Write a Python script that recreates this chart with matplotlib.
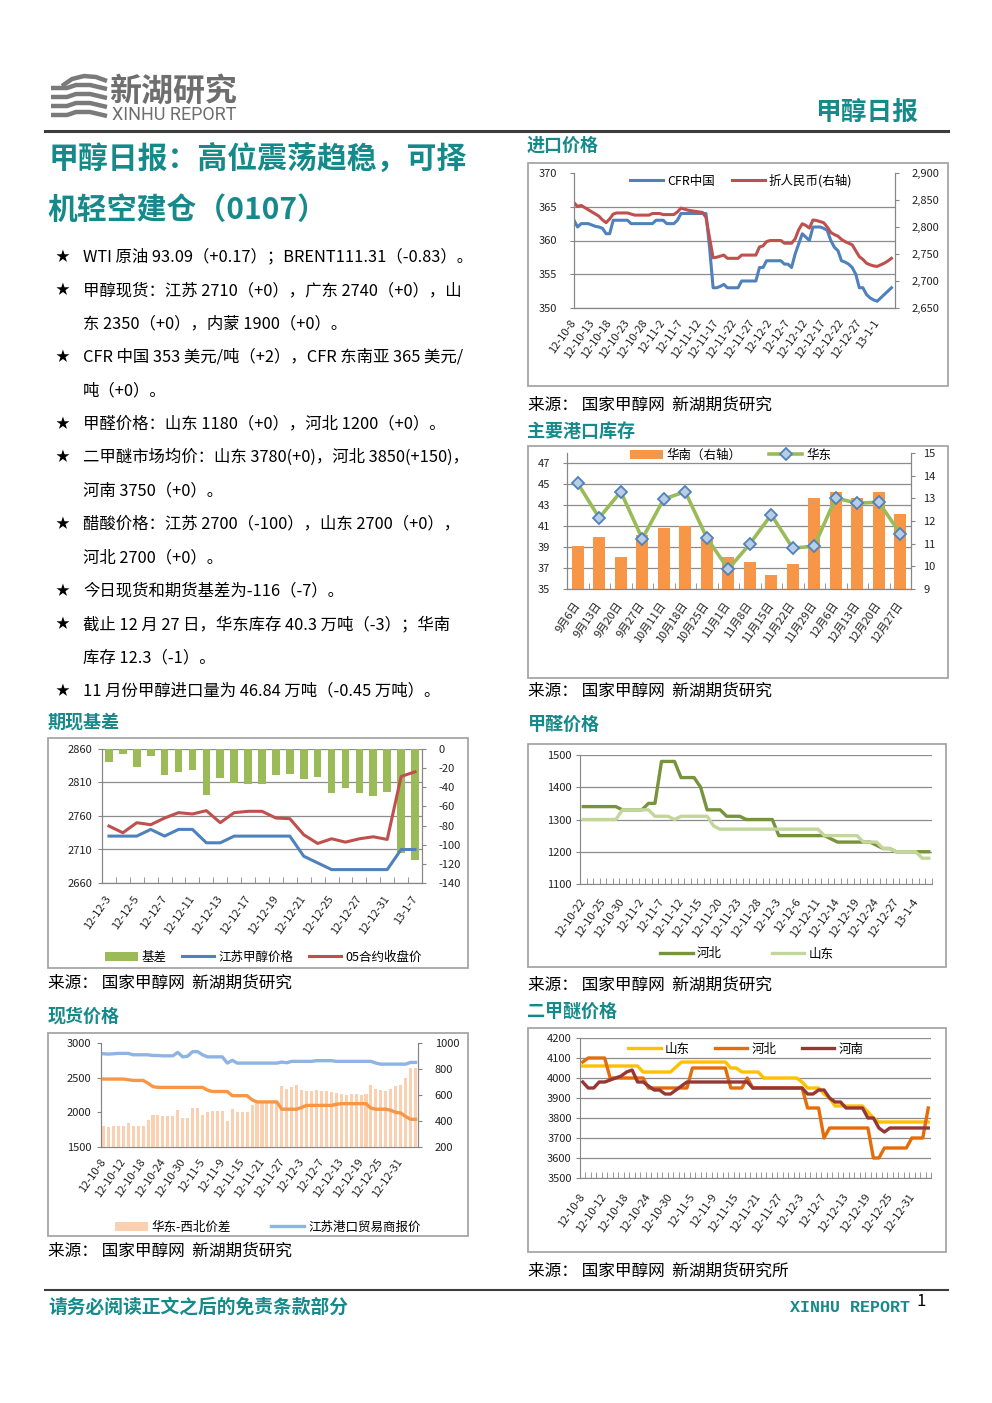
import numpy as np
import matplotlib
matplotlib.use('Agg')
import matplotlib.pyplot as plt
from matplotlib.patches import Rectangle
from matplotlib.lines import Line2D
from matplotlib.ticker import FuncFormatter

plt.rcParams['font.family'] = ['Noto Sans CJK SC', 'DejaVu Sans']
plt.rcParams['axes.unicode_minus'] = False

W, H = 992, 1403
TEAL = '#168a8a'
AXC = '#868686'
GRID = '#8c8c8c'

# ---------------- 进口价格 (daily, 12-10-8 .. 13-1-5)
imp_labels = ['12-10-8', '12-10-13', '12-10-18', '12-10-23', '12-10-28', '12-11-2',
              '12-11-7', '12-11-12', '12-11-17', '12-11-22', '12-11-27', '12-12-2',
              '12-12-7', '12-12-12', '12-12-17', '12-12-22', '12-12-27', '13-1-1']
cfr_china = [363, 362, 362.5, 362.5, 362.5, 362.3, 362.1, 362, 361.8, 361,
             361, 363, 363, 363, 363, 363, 362.5, 362.5, 362.5, 362.5,
             362.5, 362.5, 362.5, 363, 363, 363, 362.5, 362.5, 362.5, 363,
             364, 364, 364, 364, 364, 364, 364, 364, 359, 353,
             353, 353.2, 353.5, 353, 353, 353, 353, 354, 354, 354,
             354, 354, 356, 356, 357, 357, 357, 357, 357, 356.5,
             356.5, 356, 358, 359.5, 361, 360.5, 360, 362, 362, 362,
             361.8, 361.5, 360, 359, 358.5, 357, 356.8, 356.5, 356, 355,
             353, 353, 352, 351.5, 351.2, 351, 351.5, 352, 352.5, 353]
cfr_rmb = [2845, 2838, 2840, 2836, 2832, 2828, 2824, 2820, 2813, 2808,
           2815, 2824, 2826, 2826, 2826, 2826, 2824, 2822, 2822, 2822,
           2822, 2822, 2825, 2825, 2825, 2823, 2823, 2823, 2823, 2828,
           2835, 2833, 2831, 2830, 2829, 2828, 2827, 2818, 2780, 2743,
           2744, 2746, 2748, 2742, 2742, 2742, 2742, 2748, 2748, 2748,
           2748, 2748, 2763, 2765, 2773, 2775, 2775, 2775, 2775, 2770,
           2770, 2770, 2778, 2795, 2806, 2803, 2798, 2813, 2812, 2810,
           2808, 2800, 2790, 2786, 2783, 2777, 2773, 2770, 2767, 2756,
           2745, 2740, 2733, 2730, 2728, 2727, 2730, 2733, 2737, 2742]

# ---------------- 主要港口库存
inv_weeks = ['9月6日', '9月13日', '9月20日', '9月27日', '10月11日', '10月18日', '10月25日', '11月1日',
             '11月8日', '11月15日', '11月22日', '11月29日', '12月6日', '12月13日', '12月20日', '12月27日']
inv_south = [10.9, 11.3, 10.4, 11.4, 11.7, 11.8, 11.3, 10.4, 10.2, 9.6, 10.1, 13.0, 13.3, 13.0, 13.3, 12.3]
inv_east = [45.1, 41.8, 44.3, 39.8, 43.6, 44.3, 39.9, 36.9, 39.3, 42.1, 38.9, 39.1, 43.7, 43.2, 43.3, 40.3]

# ---------------- 期现基差
basis_labels = ['12-12-3', '12-12-5', '12-12-7', '12-12-11', '12-12-13', '12-12-17',
                '12-12-19', '12-12-21', '12-12-25', '12-12-27', '12-12-31', '13-1-7']
basis = [-14, -5, -19, -7, -27, -24, -22, -48, -30, -36, -37, -37, -27, -26, -31, -29,
         -46, -41, -46, -49, -45, -109, -116]
js_price = [2730, 2730, 2730, 2740, 2730, 2740, 2740, 2720, 2720, 2730, 2730, 2730, 2730,
            2730, 2700, 2690, 2680, 2680, 2680, 2680, 2680, 2710, 2710]
ma05 = [2745, 2735, 2750, 2747, 2757, 2765, 2763, 2768, 2750, 2765, 2767, 2767, 2757,
        2756, 2732, 2719, 2726, 2721, 2726, 2729, 2725, 2819, 2826]

# ---------------- 甲醛价格
fa_labels = ['12-10-22', '12-10-25', '12-10-30', '12-11-2', '12-11-7', '12-11-12', '12-11-15',
             '12-11-20', '12-11-23', '12-11-28', '12-12-3', '12-12-6', '12-12-11', '12-12-14',
             '12-12-19', '12-12-24', '12-12-27', '13-1-4']
fa_hebei = [1340, 1340, 1340, 1340, 1340, 1340, 1330, 1330, 1330, 1330,
            1350, 1350, 1480, 1480, 1480, 1430, 1430, 1430, 1400, 1330,
            1330, 1330, 1310, 1310, 1310, 1300, 1300, 1300, 1300, 1300,
            1250, 1250, 1250, 1250, 1250, 1250, 1250, 1250, 1240, 1230,
            1230, 1230, 1230, 1230, 1230, 1220, 1210, 1210, 1200, 1200,
            1200, 1200, 1200, 1200]
fa_shandong = [1300, 1300, 1300, 1300, 1300, 1300, 1330, 1330, 1330, 1330,
               1330, 1310, 1310, 1310, 1300, 1310, 1310, 1310, 1310, 1310,
               1280, 1270, 1270, 1270, 1270, 1270, 1270, 1270, 1270, 1270,
               1270, 1270, 1270, 1270, 1270, 1270, 1270, 1250, 1250, 1250,
               1250, 1250, 1250, 1230, 1230, 1230, 1210, 1210, 1200, 1200,
               1200, 1200, 1180, 1180]

# ---------------- 现货价格
spot_labels = ['12-10-8', '12-10-12', '12-10-18', '12-10-24', '12-10-30', '12-11-5', '12-11-9',
               '12-11-15', '12-11-21', '12-11-27', '12-12-3', '12-12-7', '12-12-13', '12-12-19',
               '12-12-25', '12-12-31']
spot_js = [2845, 2840, 2845, 2850, 2850, 2850, 2830, 2830, 2830, 2830,
           2820, 2820, 2815, 2815, 2815, 2865, 2800, 2810, 2875, 2875,
           2830, 2800, 2800, 2800, 2800, 2710, 2750, 2710, 2710, 2710,
           2710, 2710, 2710, 2710, 2710, 2710, 2725, 2715, 2735, 2735,
           2735, 2735, 2735, 2745, 2745, 2745, 2745, 2735, 2735, 2735,
           2735, 2735, 2735, 2735, 2735, 2710, 2695, 2695, 2695, 2695,
           2695, 2695, 2720, 2720]
spot_nw = [2480, 2480, 2480, 2480, 2480, 2470, 2460, 2460, 2460, 2420,
           2370, 2360, 2360, 2360, 2360, 2360, 2360, 2360, 2360, 2360,
           2360, 2320, 2300, 2300, 2300, 2300, 2240, 2240, 2240, 2240,
           2180, 2150, 2150, 2150, 2150, 2150, 2045, 2045, 2045, 2045,
           2070, 2100, 2100, 2100, 2100, 2100, 2100, 2115, 2125, 2125,
           2125, 2125, 2125, 2125, 2060, 2045, 2045, 2045, 2030, 2000,
           1990, 1940, 1900, 1900]
spot_spread = [360, 355, 360, 365, 365, 385, 360, 360, 365, 405,
               445, 445, 440, 440, 440, 485, 420, 425, 500, 500,
               445, 470, 478, 478, 475, 400, 490, 470, 470, 470,
               520, 550, 550, 550, 550, 550, 670, 650, 665, 680,
               640, 630, 630, 640, 630, 630, 625, 615, 605, 600,
               605, 605, 600, 605, 680, 650, 640, 630, 645, 670,
               680, 730, 805, 810]

# ---------------- 二甲醚价格
dme_labels = spot_labels
dme_sd = [4060, 4060, 4060, 4060, 4060, 4060, 4060, 4060, 4060, 4060,
          4060, 4030, 4030, 4030, 4030, 4030, 4030, 4055, 4080, 4080,
          4080, 4080, 4080, 4080, 4080, 4080, 4080, 4050, 4050, 4030,
          4030, 4030, 4030, 4000, 4000, 4000, 4000, 4000, 4000, 4000,
          3980, 3950, 3950, 3950, 3920, 3900, 3860, 3860, 3860, 3860,
          3860, 3860, 3830, 3800, 3780, 3780, 3780, 3780, 3780, 3780,
          3780, 3780, 3780, 3780]
dme_hb = [4080, 4100, 4100, 4100, 4100, 4000, 4000, 4000, 4000, 4000,
          4000, 4000, 3950, 3950, 3950, 3950, 3950, 3950, 3950, 3950,
          4050, 4050, 4050, 4050, 4050, 4050, 4050, 3950, 3950, 3950,
          4000, 3950, 3950, 3950, 3950, 3950, 3950, 3950, 3950, 3950,
          3950, 3850, 3850, 3850, 3700, 3750, 3750, 3750, 3750, 3750,
          3750, 3750, 3750, 3600, 3600, 3650, 3650, 3650, 3650, 3650,
          3700, 3700, 3700, 3850]
dme_hn = [3980, 3950, 3950, 3980, 3980, 3990, 4000, 4010, 4030, 4040,
          3980, 3980, 3960, 3940, 3940, 3920, 3920, 3940, 3960, 3980,
          3980, 3980, 3980, 3980, 3980, 3980, 3980, 3980, 3980, 3980,
          3980, 3950, 3950, 3950, 3950, 3950, 3950, 3950, 3950, 3950,
          3950, 3920, 3920, 3940, 3940, 3900, 3880, 3880, 3850, 3850,
          3850, 3850, 3800, 3800, 3750, 3730, 3750, 3750, 3750, 3750,
          3750, 3750, 3750, 3750]

bullets = [
    ['WTI 原油 93.09（+0.17）；BRENT111.31（-0.83）。'],
    ['甲醇现货：江苏 2710（+0），广东 2740（+0），山', '东 2350（+0），内蒙 1900（+0）。'],
    ['CFR 中国 353 美元/吨（+2），CFR 东南亚 365 美元/', '吨（+0）。'],
    ['甲醛价格：山东 1180（+0），河北 1200（+0）。'],
    ['二甲醚市场均价：山东 3780(+0)，河北 3850(+150)，', '河南 3750（+0）。'],
    ['醋酸价格：江苏 2700（-100），山东 2700（+0），', '河北 2700（+0）。'],
    ['今日现货和期货基差为-116（-7）。'],
    ['截止 12 月 27 日，华东库存 40.3 万吨（-3）；华南', '库存 12.3（-1）。'],
    ['11 月份甲醇进口量为 46.84 万吨（-0.45 万吨）。'],
]

fig = plt.figure(figsize=(W / 100, H / 100), dpi=100)


def box(x0, y0, x1, y1):
    return [x0 / W, 1 - y1 / H, (x1 - x0) / W, (y1 - y0) / H]


def put(x, y, s, size=11, color='black', weight='normal', ha='left', va='center', **kw):
    fig.text(x / W, 1 - y / H, s, fontsize=size, color=color, fontweight=weight,
             ha=ha, va=va, **kw)


def frame(x0, y0, x1, y1):
    fig.add_artist(Rectangle((x0 / W, 1 - y1 / H), (x1 - x0) / W, (y1 - y0) / H,
                             transform=fig.transFigure, fill=False, ec='#a6a6a6', lw=1.3))


def hline(x0, x1, y, lw, color):
    fig.add_artist(Line2D([x0 / W, x1 / W], [1 - y / H, 1 - y / H],
                          transform=fig.transFigure, color=color, lw=lw))


def style(ax, right=True, lpad=6):
    ax.spines['top'].set_visible(False)
    ax.spines['right'].set_visible(right)
    for s in ('left', 'right', 'bottom'):
        ax.spines[s].set_color(AXC)
    ax.tick_params(axis='y', labelsize=8, length=3, color=AXC, labelcolor='#222222', pad=lpad)
    ax.set_axisbelow(True)


def rstyle(ax, rpad=6):
    ax.spines['top'].set_visible(False)
    for s in ('left', 'right', 'bottom'):
        ax.spines[s].set_color(AXC)
    ax.tick_params(axis='y', labelsize=8, length=3, color=AXC, labelcolor='#222222', pad=rpad)


def xcats(ax, n, labels, step, pad=9):
    ax.set_xlim(-0.5, n - 0.5)
    ax.set_xticks(np.arange(0, n, step))
    ax.set_xticklabels(labels, rotation=55, ha='right', va='center', rotation_mode='anchor')
    ax.set_xticks(np.arange(-0.5, n, 1), minor=True)
    ax.tick_params(axis='x', which='major', length=0, pad=pad, labelsize=8, labelcolor='#222222')
    ax.tick_params(axis='x', which='minor', length=4, direction='in', color=AXC)


def dual(r):
    base = fig.add_axes(r)
    right = base.twinx()
    top = fig.add_axes(r, sharex=base, sharey=base)
    top.axis('off')
    top.patch.set_visible(False)
    return base, right, top


def leg(handles, labels, x, y, colsp):
    fig.legend(handles, labels, loc='center left', bbox_to_anchor=(x / W, 1 - y / H),
               ncol=len(labels), frameon=False, fontsize=9, handlelength=2.6,
               handletextpad=0.35, columnspacing=colsp, borderaxespad=0, borderpad=0)


# ---------------- header
logo = fig.add_axes(box(48, 70, 110, 125))
logo.set_xlim(48, 110)
logo.set_ylim(125, 70)
logo.axis('off')
logo.plot([62, 72, 84, 96, 107], [86, 79, 76, 77, 81], color='#7a7a7a', lw=3.2, solid_capstyle='butt')
for k in range(4):
    yk = 88 + k * 9
    logo.plot([51, 67, 76, 90, 107], [yk, yk, yk - 3, yk - 3, yk + 1], color='#7a7a7a', lw=3.2,
              solid_capstyle='butt')
put(109, 92, '新湖研究', size=23, color='#6e6e6e', weight='bold')
put(112, 115, 'XINHU REPORT', size=13, color='#6e6e6e', family=['Roboto'])
put(815, 112, '甲醇日报', size=18.5, color=TEAL, weight='bold')
hline(45, 948, 131, 2.2, '#3c3c3c')

# ---------------- title and bullets
put(49, 159, '甲醇日报：高位震荡趋稳，可择', size=21.5, color=TEAL, weight='bold')
put(47, 210, '机轻空建仓（0107）', size=21.5, color=TEAL, weight='bold')
yline = 257
for item in bullets:
    put(55, yline, '★', size=10)
    for s in item:
        put(83, yline, s, size=11.8)
        yline += 33.4

# ---------------- section headings and sources
put(527, 145, '进口价格', size=13, color=TEAL, weight='bold')
put(527, 431, '主要港口库存', size=13, color=TEAL, weight='bold')
put(48, 722, '期现基差', size=13, color=TEAL, weight='bold')
put(528, 724, '甲醛价格', size=13, color=TEAL, weight='bold')
put(48, 1016, '现货价格', size=13, color=TEAL, weight='bold')
put(527, 1011, '二甲醚价格', size=13, color=TEAL, weight='bold')
src = '来源： 国家甲醇网  新湖期货研究'
put(528, 405, src, size=12)
put(528, 691, src, size=12)
put(48, 983, src, size=12)
put(528, 985, src, size=12)
put(48, 1251, src, size=12)
put(528, 1271, src + '所', size=12)

frame(528, 163, 948, 386)
frame(528, 446, 948, 678)
frame(48, 738, 468, 968)
frame(528, 744, 946, 967)
frame(48, 1033, 468, 1236)
frame(528, 1028, 946, 1252)

# ---------------- chart 1: 进口价格
ax1 = fig.add_axes(box(574, 173, 895, 308))
ax1r = ax1.twinx()
d1 = np.arange(len(cfr_china))
l1, = ax1.plot(d1, cfr_china, color='#4f81bd', lw=2.2)
l2, = ax1r.plot(d1, cfr_rmb, color='#c0504d', lw=2.2)
ax1.set_xlim(0, len(cfr_china))
ax1.set_ylim(350, 370)
ax1.set_yticks(np.arange(350, 371, 5))
ax1r.set_ylim(2650, 2900)
ax1r.set_yticks(np.arange(2650, 2901, 50))
ax1r.yaxis.set_major_formatter(FuncFormatter(lambda v, p: f'{v:,.0f}'))
ax1.set_xticks(np.arange(0, len(cfr_china), 5))
ax1.set_xticklabels(imp_labels, rotation=55, ha='right', va='center', rotation_mode='anchor')
ax1.tick_params(axis='x', length=0, pad=9, labelsize=8, labelcolor='#222222')
ax1.grid(axis='y', color=GRID, lw=0.9)
style(ax1, lpad=9)
rstyle(ax1r, rpad=9)
ax1.yaxis.get_gridlines()[-1].set_visible(False)
leg([l1, l2], ['CFR中国', '折人民币(右轴)'], 630, 181, 1.4)

# ---------------- chart 2: 主要港口库存
ax2, ax2r, ax2t = dual(box(567, 453, 911, 589))
x2 = np.arange(len(inv_weeks))
b2 = ax2r.bar(x2, inv_south, width=0.58, color='#f79646')
l3, = ax2t.plot(x2, inv_east, color='#9bbb59', lw=2.6, marker='D', ms=6,
                mfc='#b9cde5', mec='#4f81bd', mew=1.3)
ax2.set_ylim(35, 48)
ax2.set_yticks(np.arange(35, 48, 2))
ax2r.set_ylim(9, 15)
ax2r.set_yticks(np.arange(9, 16, 1))
xcats(ax2, len(inv_weeks), inv_weeks, 1, pad=10)
ax2.grid(axis='y', color=GRID, lw=0.9)
style(ax2, lpad=9)
rstyle(ax2r, rpad=6)
leg([b2, l3], ['华南（右轴）', '华东'], 630, 455, 2.2)

# ---------------- chart 3: 期现基差
ax3, ax3r, ax3t = dual(box(102, 749, 422, 883))
x3 = np.arange(len(basis))
b3 = ax3r.bar(x3, basis, width=0.55, color='#9bbb59')
l4, = ax3t.plot(x3, js_price, color='#4f81bd', lw=2.2)
l5, = ax3t.plot(x3, ma05, color='#c0504d', lw=2.2)
ax3.set_ylim(2660, 2860)
ax3.set_yticks(np.arange(2660, 2861, 50))
ax3r.set_ylim(-140, 0)
ax3r.set_yticks(np.arange(-140, 1, 20))
xcats(ax3, len(basis), basis_labels, 2, pad=10)
ax3.grid(axis='y', color=GRID, lw=0.9)
style(ax3, lpad=4)
rstyle(ax3r, rpad=9)
leg([b3, l4, l5], ['基差', '江苏甲醇价格', '05合约收盘价'], 105, 957, 1.2)

# ---------------- chart 4: 甲醛价格
ax4 = fig.add_axes(box(580, 755, 932, 884))
x4 = np.arange(len(fa_hebei))
l6, = ax4.plot(x4, fa_hebei, color='#77933c', lw=2.4)
l7, = ax4.plot(x4, fa_shandong, color='#c3d69b', lw=2.4)
ax4.set_ylim(1100, 1500)
ax4.set_yticks(np.arange(1100, 1501, 100))
xcats(ax4, len(fa_hebei), fa_labels, 3, pad=11)
ax4.grid(axis='y', color=GRID, lw=0.9)
style(ax4, right=False, lpad=3)
leg([l6, l7], ['河北', '山东'], 660, 954, 4.0)

# ---------------- chart 5: 现货价格
ax5, ax5r, ax5t = dual(box(101, 1043, 418, 1147))
x5 = np.arange(len(spot_js))
b5 = ax5r.bar(x5, spot_spread, width=0.62, color='#fbd0b0')
l8, = ax5t.plot(x5, spot_js, color='#8eb4e3', lw=2.4)
ax5t.plot(x5, spot_nw, color='#f79646', lw=2.4)
ax5.set_ylim(1500, 3000)
ax5.set_yticks(np.arange(1500, 3001, 500))
ax5r.set_ylim(200, 1000)
ax5r.set_yticks(np.arange(200, 1001, 200))
xcats(ax5, len(spot_js), spot_labels, 4, pad=9)
ax5.tick_params(axis='x', which='minor', length=0)
style(ax5, lpad=4)
rstyle(ax5r, rpad=9)
leg([b5, l8], ['华东-西北价差', '江苏港口贸易商报价'], 115, 1227, 3.2)

# ---------------- chart 6: 二甲醚价格
ax6 = fig.add_axes(box(580, 1038, 931, 1178))
x6 = np.arange(len(dme_sd))
l9, = ax6.plot(x6, dme_sd, color='#ffc000', lw=2.4)
l10, = ax6.plot(x6, dme_hb, color='#e46c0a', lw=2.4)
l11, = ax6.plot(x6, dme_hn, color='#953735', lw=2.4)
ax6.set_ylim(3500, 4200)
ax6.set_yticks(np.arange(3500, 4201, 100))
xcats(ax6, len(dme_sd), dme_labels, 4, pad=12)
ax6.grid(axis='y', color=GRID, lw=0.9)
style(ax6, right=False, lpad=3)
leg([l9, l10, l11], ['山东', '河北', '河南'], 628, 1049, 2.0)

# ---------------- footer
hline(45, 948, 1290, 1.5, '#3c3c3c')
put(48, 1307, '请务必阅读正文之后的免责条款部分', size=13.5, color=TEAL, weight='bold')
put(790, 1307, 'XINHU REPORT', size=12, color=TEAL, weight='bold', family=['Liberation Mono'])
put(917, 1302, '1', size=12)

fig.savefig('out.png', dpi=100)
